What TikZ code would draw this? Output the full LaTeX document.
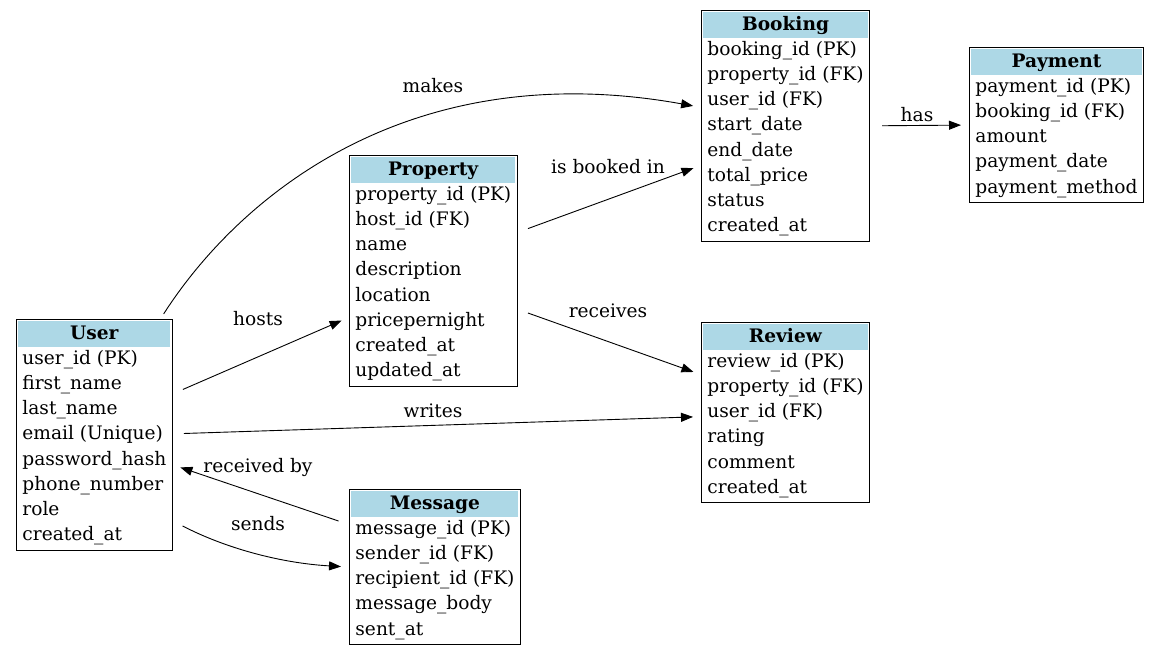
\documentclass[tikz,border=0pt]{standalone}
\usepackage{fontspec}
\setmainfont{DejaVu Serif}
\usepackage{colortbl}
\usepackage{xcolor}
\definecolor{headblue}{RGB}{173,216,230}
\usetikzlibrary{arrows.meta}
\newcommand{\hdr}[1]{\multicolumn{1}{>{\columncolor{headblue}}c}{\textbf{#1}}\\}
\setlength{\tabcolsep}{4pt}

\begin{document}
\begin{tikzpicture}[x=1pt, y=-1pt,
    entity/.style={draw, line width=0.9pt, fill=white, anchor=north west, inner sep=2pt, font=\fontsize{18.6}{25.2}\selectfont},
    rel/.style={line width=0.9pt, -{Triangle[length=12pt,width=9pt]}, shorten >=8pt},
    lbl/.style={font=\fontsize{18.6}{21}\selectfont, inner sep=1pt}]
  \useasboundingbox (0,0) rectangle (1159,655);
  % Nodes
  \node[entity] (user) at (16,319) {\begin{tabular}{l}\hdr{User}
    user\_id (PK)\\ first\_name\\ last\_name\\ email (Unique)\\
    password\_hash\\ phone\_number\\ role\\ created\_at
  \end{tabular}};
  \node[entity] (property) at (349,155) {\begin{tabular}{l}\hdr{Property}
    property\_id (PK)\\ host\_id (FK)\\ name\\ description\\
    location\\ pricepernight\\ created\_at\\ updated\_at
  \end{tabular}};
  \node[entity] (booking) at (701,10) {\begin{tabular}{l}\hdr{Booking}
    booking\_id (PK)\\ property\_id (FK)\\ user\_id (FK)\\ start\_date\\
    end\_date\\ total\_price\\ status\\ created\_at
  \end{tabular}};
  \node[entity] (payment) at (969,47) {\begin{tabular}{l}\hdr{Payment}
    payment\_id (PK)\\ booking\_id (FK)\\ amount\\ payment\_date\\ payment\_method
  \end{tabular}};
  \node[entity] (review) at (701,322) {\begin{tabular}{l}\hdr{Review}
    review\_id (PK)\\ property\_id (FK)\\ user\_id (FK)\\ rating\\
    comment\\ created\_at
  \end{tabular}};
  \node[entity] (message) at (349,489) {\begin{tabular}{l}\hdr{Message}
    message\_id (PK)\\ sender\_id (FK)\\ recipient\_id (FK)\\
    message\_body\\ sent\_at
  \end{tabular}};

  % Edges
  \draw[rel, shorten <=6pt] ([xshift=66pt]user.north) .. controls (240,195) and (410,55) .. ([yshift=18.5pt]booking.west);
  \draw[rel, shorten <=11pt] ([yshift=38.5pt]property.east) -- ([yshift=-39.5pt]booking.west);
  \draw[rel, shorten <=11pt] ([yshift=-38.5pt]property.east) -- ([yshift=38pt]review.west);
  \draw[rel, shorten <=11pt] ([yshift=41pt]user.east) -- ([yshift=-46.5pt]property.west);
  \draw[rel, shorten <=11pt] ([yshift=1pt]user.east) -- ([yshift=-4pt]review.west);
  \draw[rel, shorten <=11pt] ([yshift=42.5pt]message.west) -- ([yshift=-30pt]user.east);
  \draw[rel, shorten <=11pt] ([yshift=-86pt]user.east) .. controls (225,548) and (280,563) .. (message.west);
  \draw[rel, shorten <=12pt] (booking.east) -- (payment.west);

  % Labels
  \node[lbl] (makes) at (433,86) {makes};
  \node[lbl] (booked) at (608,167) {is booked in};
  \node[lbl] (receives) at (608,311) {receives};
  \node[lbl] (hosts) at (258,319) {hosts};
  \node[lbl] (writes) at (433,411) {writes};
  \node[lbl] (recvby) at (258,467) {received by};
  \node[lbl] (sends) at (258,524) {sends};
  \node[lbl] (has) at (917,115) {has};
\end{tikzpicture}
\end{document}
